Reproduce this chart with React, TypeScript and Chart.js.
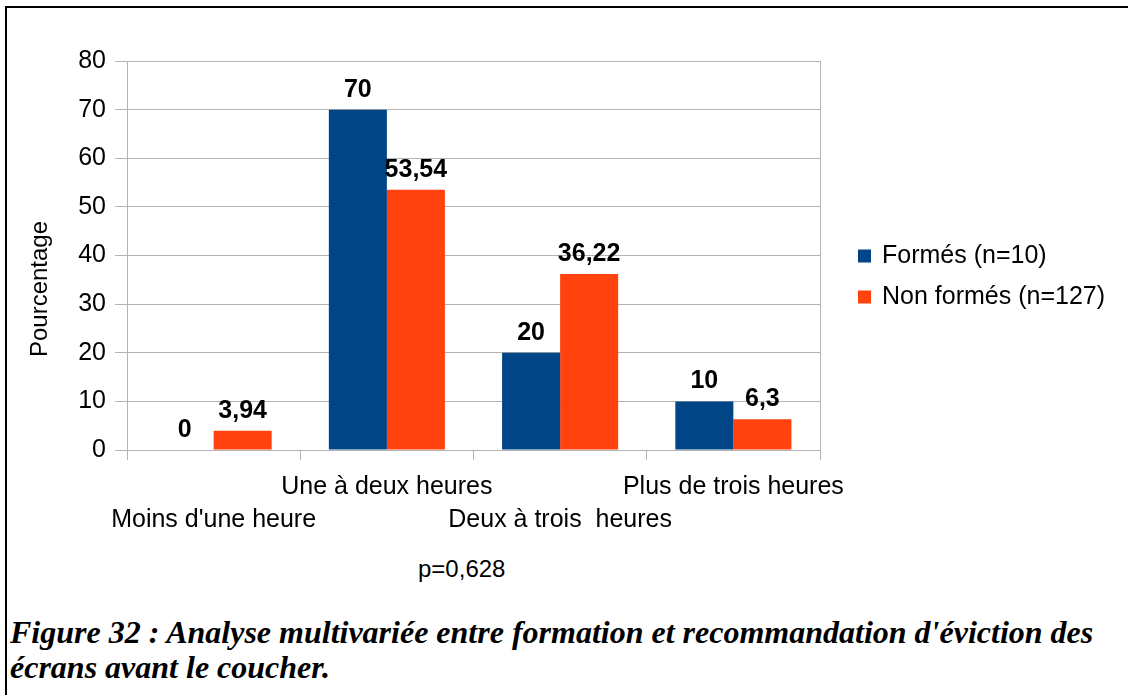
import React, { useEffect, useRef } from "react";
import { Chart, registerables } from "chart.js";

Chart.register(...registerables);

// ---- Data ----
const categories: string[] = [
  "Moins d'une heure",
  "Une à deux heures",
  "Deux à trois  heures",
  "Plus de trois heures",
];
const seriesNames: string[] = ["Formés (n=10)", "Non formés (n=127)"];
const formes: number[] = [0, 70, 20, 10];
const nonFormes: number[] = [3.94, 53.54, 36.22, 6.3];
const seriesColors: string[] = ["#004586", "#ff420e"];
const yMin = 0;
const yMax = 80;
const yStep = 10;
const yAxisTitle = "Pourcentage";
const pValueText = "p=0,628";
const captionLines: string[] = [
  "Figure 32 : Analyse multivariée entre formation et recommandation d'éviction des",
  "écrans avant le coucher.",
];

const SANS = '"Liberation Sans", Arial, Helvetica, sans-serif';
const SERIF = '"Liberation Serif", "Times New Roman", serif';
const GRID = "#b3b3b3";

const fmt = (v: number) => String(v).replace(".", ",");

const valueLabelsPlugin = {
  id: "valueLabels",
  afterDatasetsDraw(chart: any) {
    const ctx = chart.ctx;
    ctx.save();
    ctx.font = `bold 25px ${SANS}`;
    ctx.fillStyle = "#000";
    ctx.textAlign = "center";
    ctx.textBaseline = "alphabetic";
    chart.data.datasets.forEach((ds: any, di: number) => {
      const meta = chart.getDatasetMeta(di);
      meta.data.forEach((el: any, i: number) => {
        const v = ds.data[i];
        ctx.fillText(fmt(v), el.x, el.y - 13);
      });
    });
    ctx.restore();
  },
};

const extrasPlugin = {
  id: "extras",
  afterDraw(chart: any) {
    const ctx = chart.ctx;
    ctx.save();
    // y axis title
    ctx.font = `24px ${SANS}`;
    ctx.fillStyle = "#000";
    ctx.translate(40, 289);
    ctx.rotate(-Math.PI / 2);
    ctx.textAlign = "center";
    ctx.textBaseline = "middle";
    ctx.fillText(yAxisTitle, 0, 0);
    ctx.restore();

    // legend
    ctx.save();
    ctx.font = `25px ${SANS}`;
    ctx.textBaseline = "middle";
    ctx.textAlign = "left";
    const legendX = 858;
    const legendY0 = 256;
    const legendDy = 41;
    chart.data.datasets.forEach((ds: any, i: number) => {
      const cy = legendY0 + i * legendDy;
      ctx.fillStyle = ds.backgroundColor;
      ctx.fillRect(legendX, cy - 6.5, 13, 13);
      ctx.fillStyle = "#000";
      ctx.fillText(ds.label, legendX + 24, cy);
    });
    ctx.restore();
  },
};

export default function App() {
  const canvasRef = useRef<HTMLCanvasElement | null>(null);

  useEffect(() => {
    if (!canvasRef.current) return;
    const chart = new Chart(canvasRef.current, {
      type: "bar",
      data: {
        labels: categories,
        datasets: [
          {
            label: seriesNames[0],
            data: formes,
            backgroundColor: seriesColors[0],
            borderWidth: 0,
            categoryPercentage: 0.67,
            barPercentage: 1.0,
          },
          {
            label: seriesNames[1],
            data: nonFormes,
            backgroundColor: seriesColors[1],
            borderWidth: 0,
            categoryPercentage: 0.67,
            barPercentage: 1.0,
          },
        ],
      },
      options: {
        responsive: false,
        animation: false,
        events: [],
        layout: { padding: { top: 61, right: 308, bottom: 6, left: 0 } },
        plugins: {
          legend: { display: false },
          tooltip: { enabled: false },
        },
        scales: {
          x: {
            offset: true,
            grid: {
              display: true,
              offset: true,
              drawOnChartArea: true,
              drawTicks: true,
              tickLength: 10,
              color: (c: any) => (c.type === "scale" ? GRID : "rgba(0,0,0,0)"),
              tickColor: GRID,
            },
            border: { display: true, color: GRID },
            ticks: {
              color: "#000",
              font: { size: 25, family: SANS, lineHeight: 1.32 },
              padding: 11,
              maxRotation: 0,
              minRotation: 0,
              autoSkip: false,
              callback: (_v: any, i: number) =>
                i % 2 === 0 ? ["", categories[i]] : [categories[i], ""],
            },
          },
          y: {
            min: yMin,
            max: yMax,
            ticks: {
              stepSize: yStep,
              color: "#000",
              font: { size: 25, family: SANS },
              padding: 9,
            },
            grid: { color: GRID, tickLength: 12, tickColor: GRID },
            border: { display: true, color: GRID },
            afterFit: (s: any) => {
              s.width = 127;
            },
          },
        },
      },
      plugins: [valueLabelsPlugin, extrasPlugin],
    });
    return () => chart.destroy();
  }, []);

  return (
    <div
      style={{
        position: "fixed",
        left: 0,
        top: 0,
        width: 1128,
        height: 695,
        background: "#fff",
        overflow: "hidden",
      }}
    >
      <div
        style={{
          position: "absolute",
          left: 5,
          top: 6,
          width: 1200,
          height: 800,
          borderTop: "2px solid #000",
          borderLeft: "2px solid #000",
        }}
      />
      <canvas
        ref={canvasRef}
        width={1128}
        height={554}
        style={{ position: "absolute", left: 0, top: 0, width: 1128, height: 554 }}
      />
      <div
        style={{
          position: "absolute",
          left: 418,
          top: 557,
          font: `24px ${SANS}`,
          lineHeight: "24px",
          color: "#000",
          whiteSpace: "pre",
        }}
      >
        {pValueText}
      </div>
      <div
        style={{
          position: "absolute",
          left: 10,
          top: 615,
          font: `italic bold 32px ${SERIF}`,
          lineHeight: "35px",
          color: "#000",
          whiteSpace: "pre",
        }}
      >
        {captionLines.map((l, i) => (
          <div key={i}>{l}</div>
        ))}
      </div>
    </div>
  );
}
